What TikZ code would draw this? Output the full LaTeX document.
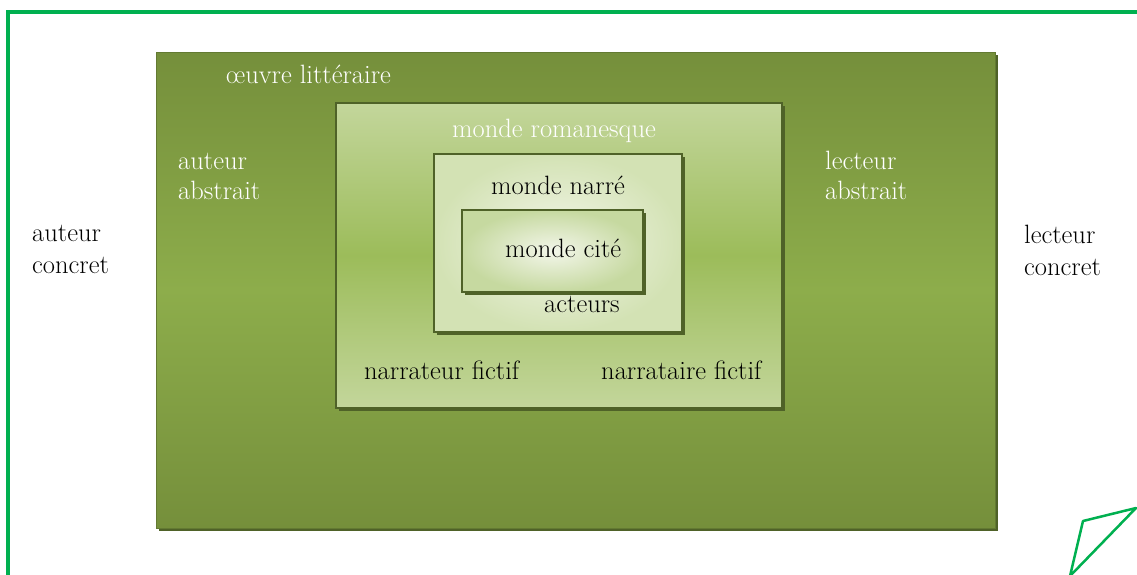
\documentclass[tikz,border=0pt]{standalone}
\usetikzlibrary{shadows}
\definecolor{bordergreen}{HTML}{00B050}
\definecolor{olive}{HTML}{758F3B}
\definecolor{olivemid}{HTML}{8DAD4B}
\definecolor{darkolive}{HTML}{4F6228}
\definecolor{lightg}{HTML}{C3D69B}
\definecolor{midg}{HTML}{9CBC5A}
\definecolor{paleg}{HTML}{F3F6EA}
\definecolor{edgeg}{HTML}{D3E2B4}
\definecolor{edgec}{HTML}{C6D9A0}
\tikzset{
  box/.style={rectangle, inner sep=0pt, draw=darkolive, line width=1.6pt,
    drop shadow={shadow xshift=3pt, shadow yshift=-3pt, fill=darkolive, opacity=1}},
  lbl/.style={inner sep=0pt, anchor=base west, font=\fontsize{26.5}{32}\selectfont},
  wlbl/.style={lbl, text=white},
}
\begin{document}
\begin{tikzpicture}[x=1pt,y=-1pt]
\useasboundingbox (0,0) rectangle (1137,574);
\fill[white] (0,0) rectangle (1137,574);
% frame
\draw[bordergreen, line width=3.2pt] (8,576) -- (8,12) -- (1140,12);
\draw[bordergreen, line width=2.5pt, line join=round] (1136,508) -- (1083,521) -- (1070,576) -- cycle;
% boxes
\node[box, draw=olive!85!black, line width=0.8pt, minimum width=839pt, minimum height=476pt,
  top color=olive, bottom color=olive, middle color=olivemid] (oeuvre) at (575.5,290) {};
\node[box, minimum width=446pt, minimum height=305pt,
  top color=lightg, bottom color=lightg, middle color=midg] (roman) at (559,255.5) {};
\node[box, minimum width=248pt, minimum height=178pt,
  inner color=paleg, outer color=edgeg] (narre) at (558,243) {};
\node[box, minimum width=181pt, minimum height=82pt,
  inner color=paleg, outer color=edgec] (cite) at (552.5,251) {};
% labels
\node[wlbl] (t1) at (226,83) {œuvre littéraire};
\node[wlbl] (t2) at (178,169) {auteur};
\node[wlbl] (t3) at (178,199) {abstrait};
\node[wlbl] (t4) at (825,169) {lecteur};
\node[wlbl] (t5) at (825,199) {abstrait};
\node[lbl] (t6) at (32,241) {auteur};
\node[lbl] (t7) at (32,273) {concret};
\node[lbl] (t8) at (1024,243) {lecteur};
\node[lbl] (t9) at (1024,275) {concret};
\node[wlbl] (t10) at (452,137) {monde romanesque};
\node[lbl] (t11) at (491,194) {monde narré};
\node[lbl] (t12) at (505,257) {monde cité};
\node[lbl] (t13) at (544,312) {acteurs};
\node[lbl] (t14) at (364,379) {narrateur fictif};
\node[lbl] (t15) at (601,379) {narrataire fictif};
\end{tikzpicture}
\end{document}
